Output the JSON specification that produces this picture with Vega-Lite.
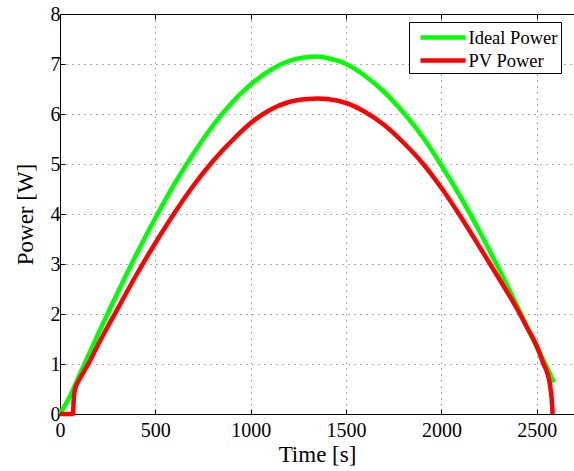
{
  "$schema": "https://vega.github.io/schema/vega-lite/v6.json",
  "autosize": {"type": "none"},
  "padding": {"left": 60, "top": 14, "right": 0, "bottom": 57},
  "width": 514,
  "height": 400,
  "background": "white",
  "config": {
    "view": {"stroke": null},
    "font": "Liberation Serif",
    "axis": {
      "domainColor": "#000",
      "domainWidth": 1,
      "tickColor": "#000",
      "tickSize": -5,
      "labelColor": "#000",
      "labelFont": "Liberation Serif",
      "labelFontSize": 20,
      "labelFlush": false,
      "titleFont": "Liberation Serif",
      "titleFontSize": 23,
      "titleFontWeight": "normal",
      "titleColor": "#000",
      "gridColor": "#333",
      "gridOpacity": 0.8,
      "gridDash": [1, 5],
      "gridWidth": 1
    }
  },
  "datasets": {
    "power": [
      {"t": 0, "P": 0, "series": "Ideal Power"},
      {"t": 50, "P": 0.34, "series": "Ideal Power"},
      {"t": 100, "P": 0.76, "series": "Ideal Power"},
      {"t": 150, "P": 1.18, "series": "Ideal Power"},
      {"t": 200, "P": 1.6, "series": "Ideal Power"},
      {"t": 300, "P": 2.41, "series": "Ideal Power"},
      {"t": 400, "P": 3.19, "series": "Ideal Power"},
      {"t": 500, "P": 3.92, "series": "Ideal Power"},
      {"t": 600, "P": 4.6, "series": "Ideal Power"},
      {"t": 700, "P": 5.21, "series": "Ideal Power"},
      {"t": 800, "P": 5.76, "series": "Ideal Power"},
      {"t": 900, "P": 6.22, "series": "Ideal Power"},
      {"t": 1000, "P": 6.59, "series": "Ideal Power"},
      {"t": 1100, "P": 6.87, "series": "Ideal Power"},
      {"t": 1200, "P": 7.06, "series": "Ideal Power"},
      {"t": 1300, "P": 7.14, "series": "Ideal Power"},
      {"t": 1340, "P": 7.15, "series": "Ideal Power"},
      {"t": 1400, "P": 7.12, "series": "Ideal Power"},
      {"t": 1500, "P": 7.0, "series": "Ideal Power"},
      {"t": 1600, "P": 6.76, "series": "Ideal Power"},
      {"t": 1700, "P": 6.44, "series": "Ideal Power"},
      {"t": 1800, "P": 6.03, "series": "Ideal Power"},
      {"t": 1900, "P": 5.55, "series": "Ideal Power"},
      {"t": 2000, "P": 4.97, "series": "Ideal Power"},
      {"t": 2100, "P": 4.34, "series": "Ideal Power"},
      {"t": 2200, "P": 3.65, "series": "Ideal Power"},
      {"t": 2300, "P": 2.91, "series": "Ideal Power"},
      {"t": 2400, "P": 2.14, "series": "Ideal Power"},
      {"t": 2500, "P": 1.33, "series": "Ideal Power"},
      {"t": 2550, "P": 0.96, "series": "Ideal Power"},
      {"t": 2590, "P": 0.63, "series": "Ideal Power"},
      {"t": 0, "P": 0, "series": "PV Power"},
      {"t": 68, "P": 0, "series": "PV Power"},
      {"t": 70, "P": 0.15, "series": "PV Power"},
      {"t": 73, "P": 0.35, "series": "PV Power"},
      {"t": 77, "P": 0.47, "series": "PV Power"},
      {"t": 85, "P": 0.57, "series": "PV Power"},
      {"t": 100, "P": 0.68, "series": "PV Power"},
      {"t": 148, "P": 1.0, "series": "PV Power"},
      {"t": 200, "P": 1.39, "series": "PV Power"},
      {"t": 300, "P": 2.09, "series": "PV Power"},
      {"t": 400, "P": 2.78, "series": "PV Power"},
      {"t": 500, "P": 3.42, "series": "PV Power"},
      {"t": 600, "P": 4.02, "series": "PV Power"},
      {"t": 700, "P": 4.57, "series": "PV Power"},
      {"t": 800, "P": 5.05, "series": "PV Power"},
      {"t": 900, "P": 5.46, "series": "PV Power"},
      {"t": 1000, "P": 5.82, "series": "PV Power"},
      {"t": 1100, "P": 6.08, "series": "PV Power"},
      {"t": 1200, "P": 6.24, "series": "PV Power"},
      {"t": 1300, "P": 6.3, "series": "PV Power"},
      {"t": 1350, "P": 6.31, "series": "PV Power"},
      {"t": 1400, "P": 6.3, "series": "PV Power"},
      {"t": 1500, "P": 6.22, "series": "PV Power"},
      {"t": 1600, "P": 6.04, "series": "PV Power"},
      {"t": 1700, "P": 5.78, "series": "PV Power"},
      {"t": 1800, "P": 5.43, "series": "PV Power"},
      {"t": 1900, "P": 5.02, "series": "PV Power"},
      {"t": 2000, "P": 4.52, "series": "PV Power"},
      {"t": 2100, "P": 3.95, "series": "PV Power"},
      {"t": 2200, "P": 3.34, "series": "PV Power"},
      {"t": 2300, "P": 2.72, "series": "PV Power"},
      {"t": 2400, "P": 2.08, "series": "PV Power"},
      {"t": 2450, "P": 1.72, "series": "PV Power"},
      {"t": 2500, "P": 1.36, "series": "PV Power"},
      {"t": 2535, "P": 1.0, "series": "PV Power"},
      {"t": 2555, "P": 0.82, "series": "PV Power"},
      {"t": 2565, "P": 0.67, "series": "PV Power"},
      {"t": 2572, "P": 0.5, "series": "PV Power"},
      {"t": 2578, "P": 0.3, "series": "PV Power"},
      {"t": 2583, "P": 0, "series": "PV Power"}
    ]
  },
  "data": {"name": "power"},
  "layer": [
    {
      "mark": {"type": "line", "strokeWidth": 4.5, "interpolate": "monotone"},
      "encoding": {
        "x": {
          "field": "t", "type": "quantitative",
          "scale": {"domain": [0, 2695], "nice": false, "zero": false},
          "axis": {
            "title": "Time [s]",
            "values": [0, 500, 1000, 1500, 2000, 2500],
            "format": "d",
            "labelFont": "Times New Roman",
            "labelFontSize": 20,
            "labelFlush": false,
            "labelPadding": 11,
            "titlePadding": 3,
            "grid": true
          }
        },
        "y": {
          "field": "P", "type": "quantitative",
          "scale": {"domain": [0, 8], "nice": false},
          "axis": {
            "title": "Power [W]",
            "values": [0, 1, 2, 3, 4, 5, 6, 7, 8],
            "format": "d",
            "labelFont": "Times New Roman",
            "labelFontSize": 20,
            "labelPadding": 5,
            "titlePadding": 13,
            "grid": true
          }
        },
        "color": {
          "field": "series", "type": "nominal",
          "scale": {"domain": ["Ideal Power", "PV Power"], "range": ["#00ff00", "#ff0000"]},
          "legend": {
            "title": null,
            "orient": "none",
            "legendX": 349,
            "legendY": 8,
            "symbolType": "M-2.25,0H2.25",
            "symbolSize": 400,
            "symbolOffset": 18.5,
            "symbolStrokeWidth": 4.5,
            "labelFont": "Times New Roman",
            "labelFontSize": 18.5,
            "labelColor": "#000",
            "labelOffset": 13,
            "strokeColor": "#000",
            "fillColor": "#fff",
            "padding": 3,
            "rowPadding": 1,
            "cornerRadius": 0
          }
        }
      }
    },
    {
      "mark": {"type": "rule", "opacity": 0},
      "encoding": {
        "x": {
          "datum": 0, "type": "quantitative",
          "axis": {"orient": "top", "labels": false, "title": null, "grid": false, "labelFlush": false, "values": [0, 500, 1000, 1500, 2000, 2500]}
        }
      }
    }
  ],
  "resolve": {"axis": {"x": "independent"}}
}
